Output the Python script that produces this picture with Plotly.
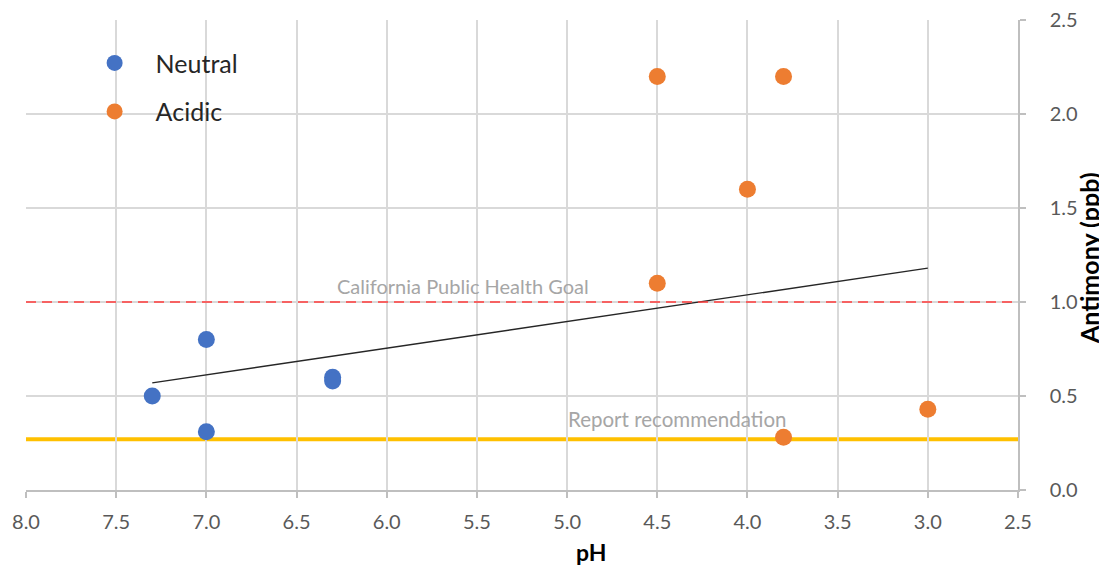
import plotly.graph_objects as go

# Data
neutral_ph = [7.3, 7.0, 7.0, 6.3, 6.3]
neutral_sb = [0.50, 0.80, 0.31, 0.60, 0.58]
acidic_ph = [4.5, 3.8, 4.0, 4.5, 3.8, 3.0]
acidic_sb = [2.20, 2.20, 1.60, 1.10, 0.28, 0.43]
trend_ph = [7.3, 3.0]
trend_sb = [0.57, 1.18]
phg_level = 1.0
report_level = 0.27
x_ticks = [8.0, 7.5, 7.0, 6.5, 6.0, 5.5, 5.0, 4.5, 4.0, 3.5, 3.0, 2.5]
y_ticks = [0.0, 0.5, 1.0, 1.5, 2.0, 2.5]

FONT = "Lato"
TICKC = "#595959"
GRID = "#D9D9D9"

fig = go.Figure()
fig.add_trace(go.Scatter(x=trend_ph, y=trend_sb, mode="lines",
                         line=dict(color="#262626", width=1.4),
                         showlegend=False, hoverinfo="skip"))
fig.add_trace(go.Scatter(x=neutral_ph, y=neutral_sb, mode="markers", name="Neutral",
                         legendgroup="n",
                         marker=dict(color="#4472C4", size=17)))
fig.add_trace(go.Scatter(x=acidic_ph, y=acidic_sb, mode="markers", name="Acidic",
                         legendgroup="a",
                         marker=dict(color="#ED7D31", size=17)))

fig.add_shape(type="line", xref="x", yref="y", x0=x_ticks[0], x1=x_ticks[-1],
              y0=phg_level, y1=phg_level,
              line=dict(color="#FF3B3B", width=1.6, dash="10px,6px"), layer="above")
fig.add_shape(type="line", xref="x", yref="y", x0=x_ticks[0], x1=x_ticks[-1],
              y0=report_level, y1=report_level,
              line=dict(color="#FFC000", width=4), layer="below")
# white backing behind the legend (hides gridlines, as in the reference)
fig.add_shape(type="rect", xref="paper", yref="paper", x0=0.072, x1=0.222, y0=0.76, y1=0.965,
              fillcolor="white", line=dict(width=0), layer="between")

fig.add_annotation(x=5.578, y=1.085, xref="x", yref="y", text="California Public Health Goal",
                   showarrow=False, font=dict(family=FONT, size=20, color="#A6A6A6"))
fig.add_annotation(x=4.39, y=0.378, xref="x", yref="y", text="Report recommendation",
                   showarrow=False, font=dict(family=FONT, size=20.5, color="#A6A6A6"))

# axis titles
fig.add_annotation(x=0.5696, y=0, xref="paper", yref="paper", yshift=-62,
                   xanchor="center", yanchor="middle", showarrow=False,
                   text="<b>pH</b>", font=dict(family=FONT, size=23, color="#000000"))
fig.add_annotation(x=1, y=0.5, xref="paper", yref="paper", xshift=71, yshift=-3,
                   xanchor="center", yanchor="middle", showarrow=False, textangle=-90,
                   text="<b>Antimony (ppb)</b>", font=dict(family=FONT, size=25, color="#000000"))

fig.update_layout(
    width=1099, height=561,
    margin=dict(l=18, r=89, t=12, b=79, autoexpand=False),
    paper_bgcolor="white", plot_bgcolor="white",
    font=dict(family=FONT, color=TICKC),
    legend=dict(x=0.048, y=0.957, xanchor="left", yanchor="top",
                bgcolor="rgba(0,0,0,0)", font=dict(family=FONT, size=25, color="#262626"),
                tracegroupgap=13, itemwidth=72),
    xaxis=dict(range=[8.0, 2.5], tickvals=x_ticks, ticktext=[f"{v:.1f}" for v in x_ticks],
               showgrid=True, gridcolor=GRID, gridwidth=1.5, zeroline=False,
               showline=True, linecolor="#BFBFBF", linewidth=1.5,
               ticks="outside", ticklen=6, tickcolor="#BFBFBF", tickwidth=1.5,
               ticklabelstandoff=7, automargin=False, ticklabeloverflow="allow",
               tickfont=dict(family=FONT, size=20, color=TICKC)),
    yaxis=dict(range=[0, 2.5], tickvals=y_ticks, ticktext=[f"{v:.1f}" for v in y_ticks],
               side="right",
               showgrid=True, gridcolor=GRID, gridwidth=1.5, zeroline=False,
               showline=True, linecolor="#BFBFBF", linewidth=1.5,
               ticks="outside", ticklen=6, tickcolor="#BFBFBF", tickwidth=1.5,
               ticklabelstandoff=20, automargin=False, ticklabeloverflow="allow",
               tickfont=dict(family=FONT, size=20, color=TICKC)),
)

fig.write_html("out.html")
